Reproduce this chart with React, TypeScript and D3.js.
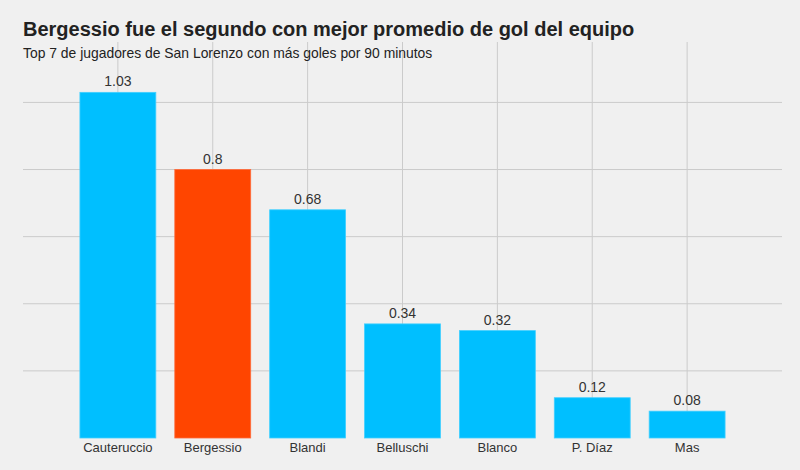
import React from 'react';
import * as d3 from 'd3';

const players = ['Cauteruccio', 'Bergessio', 'Blandi', 'Belluschi', 'Blanco', 'P. Díaz', 'Mas'];
const golesPor90 = [1.03, 0.8, 0.68, 0.34, 0.32, 0.12, 0.08];
const highlight = ['Bergessio'];
const yTicks = [0.2, 0.4, 0.6, 0.8, 1.0];

const title = 'Bergessio fue el segundo con mejor promedio de gol del equipo';
const subtitle = 'Top 7 de jugadores de San Lorenzo con más goles por 90 minutos';

const width = 800;
const height = 470;
const margin = { top: 42, right: 18, bottom: 32, left: 23 };

const font = '"Liberation Sans", Arial, Helvetica, sans-serif';

export default function App() {
    const innerW = width - margin.left - margin.right;
    const innerH = height - margin.top - margin.bottom;

    // posiciones como en matplotlib: xlim [-1, 7], ancho de barra 0.8
    const xScale = d3.scaleLinear()
        .domain([-1, players.length])
        .range([0, innerW]);
    const yScale = d3.scaleLinear()
        .domain([0, 1.18])
        .range([innerH, 0]);

    const barW = xScale(0.8) - xScale(0);

    return (
        <svg width={width} height={height}
            style={{ position: 'absolute', left: 0, top: 0, background: '#f0f0f0' }}
            fontFamily={font}>
            <rect width={width} height={height} fill="#f0f0f0" />
            <g transform={`translate(${margin.left},${margin.top})`}>
                {yTicks.map(t => (
                    <line key={'h' + t} x1={0} x2={innerW} y1={yScale(t)} y2={yScale(t)}
                        stroke="#cbcbcb" strokeWidth={1} />
                ))}
                {players.map((p, i) => (
                    <line key={'v' + p} x1={xScale(i)} x2={xScale(i)} y1={0} y2={innerH}
                        stroke="#cbcbcb" strokeWidth={1} />
                ))}
                {players.map((p, i) => (
                    <rect key={'b' + p}
                        x={xScale(i) - barW / 2}
                        y={yScale(golesPor90[i])}
                        width={barW}
                        height={innerH - yScale(golesPor90[i])}
                        fill={highlight.includes(p) ? '#FF4500' : '#00BFFF'}
                        stroke={highlight.includes(p) ? '#ff6a3a' : '#40cfff'}
                        strokeWidth={0.8} />
                ))}
                {players.map((p, i) => (
                    <text key={'l' + p} x={xScale(i)} y={yScale(golesPor90[i]) - 6}
                        textAnchor="middle" fontSize={14} fill="#333">
                        {String(golesPor90[i])}
                    </text>
                ))}
                {players.map((p, i) => (
                    <text key={'t' + p} x={xScale(i)} y={innerH + 14}
                        textAnchor="middle" fontSize={13} fill="#333">
                        {p}
                    </text>
                ))}
            </g>
            <text x={23} y={36} fontSize={20} fontWeight="bold" fill="#222">{title}</text>
            <text x={23} y={58} fontSize={13.9} fill="#222">{subtitle}</text>
        </svg>
    );
}
